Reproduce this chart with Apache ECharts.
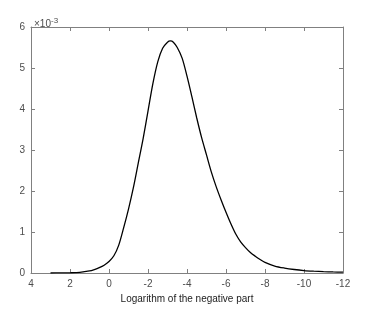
<!DOCTYPE html>
<html>
<head>
<meta charset="utf-8">
<script src="https://cdn.jsdelivr.net/npm/echarts@6/dist/echarts.min.js"></script>
<style>html,body{margin:0;padding:0;background:#fff}#c{width:378px;height:316px}</style>
</head>
<body>
<div id="c"></div>
<script>
// x values (logarithm of the negative part)
var xValues = [3.0, 2.5, 2.0, 1.5, 1.0, 0.75, 0.5, 0.25, 0.0, -0.25, -0.5, -0.75, -1.0, -1.25, -1.5, -1.75, -2.0, -2.25, -2.5, -2.75, -3.0, -3.15, -3.3, -3.5, -3.75, -4.0, -4.25, -4.5, -4.75, -5.0, -5.25, -5.5, -5.75, -6.0, -6.25, -6.5, -6.75, -7.0, -7.25, -7.5, -7.75, -8.0, -8.5, -9.0, -9.5, -10.0, -10.5, -11.0, -11.5, -12.0];
// density values (in units of 1e-3)
var yValues = [0.0, 0.002, 0.005, 0.015, 0.05, 0.085, 0.13, 0.19, 0.28, 0.42, 0.68, 1.1, 1.56, 2.08, 2.68, 3.28, 3.95, 4.62, 5.15, 5.48, 5.63, 5.66, 5.63, 5.5, 5.24, 4.8, 4.3, 3.78, 3.3, 2.88, 2.46, 2.1, 1.78, 1.48, 1.2, 0.95, 0.76, 0.62, 0.5, 0.41, 0.33, 0.26, 0.17, 0.12, 0.085, 0.06, 0.045, 0.034, 0.026, 0.02];
var yScaleExp = -3;
var xTitle = 'Logarithm of the negative part';

var data = xValues.map(function (x, i) { return [x, yValues[i] * Math.pow(10, yScaleExp)]; });
var axisColor = '#808080';
var textColor = '#4d4d4d';
var font = 'Liberation Sans, Arial, sans-serif';
function axisCommon(extra) {
  var base = {
    axisLine: {show: true, onZero: false, lineStyle: {color: axisColor, width: 1}},
    axisTick: {show: true, inside: true, length: 4, lineStyle: {color: axisColor}},
    splitLine: {show: false}
  };
  for (var k in extra) base[k] = extra[k];
  return base;
}
var chart = echarts.init(document.getElementById('c'));
chart.setOption({
  animation: false,
  backgroundColor: '#fff',
  grid: {left: 31, right: 35, top: 27, bottom: 43},
  title: {
    text: '×10{sup|' + yScaleExp + '}',
    left: 29, top: 12,
    textStyle: {fontFamily: font, fontSize: 10, color: textColor, fontWeight: 'normal',
      rich: {sup: {fontFamily: font, fontSize: 8, color: textColor, verticalAlign: 'top', padding: [0, 0, 6, 0]}}}
  },
  xAxis: [axisCommon({
    type: 'value', inverse: true, min: -12, max: 4, interval: 2, position: 'bottom',
    name: xTitle, nameLocation: 'middle', nameGap: 18,
    nameTextStyle: {fontFamily: font, fontSize: 10, color: '#222'},
    axisLabel: {fontFamily: font, fontSize: 10, color: textColor, margin: 6}
  }), axisCommon({
    type: 'value', inverse: true, min: -12, max: 4, interval: 2, position: 'top',
    axisLabel: {show: false}
  })],
  yAxis: [axisCommon({
    type: 'value', min: 0, max: 0.006, interval: 0.001, position: 'left',
    axisLabel: {fontFamily: font, fontSize: 10, color: textColor, margin: 6,
      formatter: function (v) { return String(Math.round(v / Math.pow(10, yScaleExp))); }}
  }), axisCommon({
    type: 'value', min: 0, max: 0.006, interval: 0.001, position: 'right',
    axisLabel: {show: false}
  })],
  series: [{
    type: 'line', data: data, smooth: 0.3, showSymbol: false,
    lineStyle: {color: '#000', width: 1.3}
  }]
});
</script>
</body>
</html>
